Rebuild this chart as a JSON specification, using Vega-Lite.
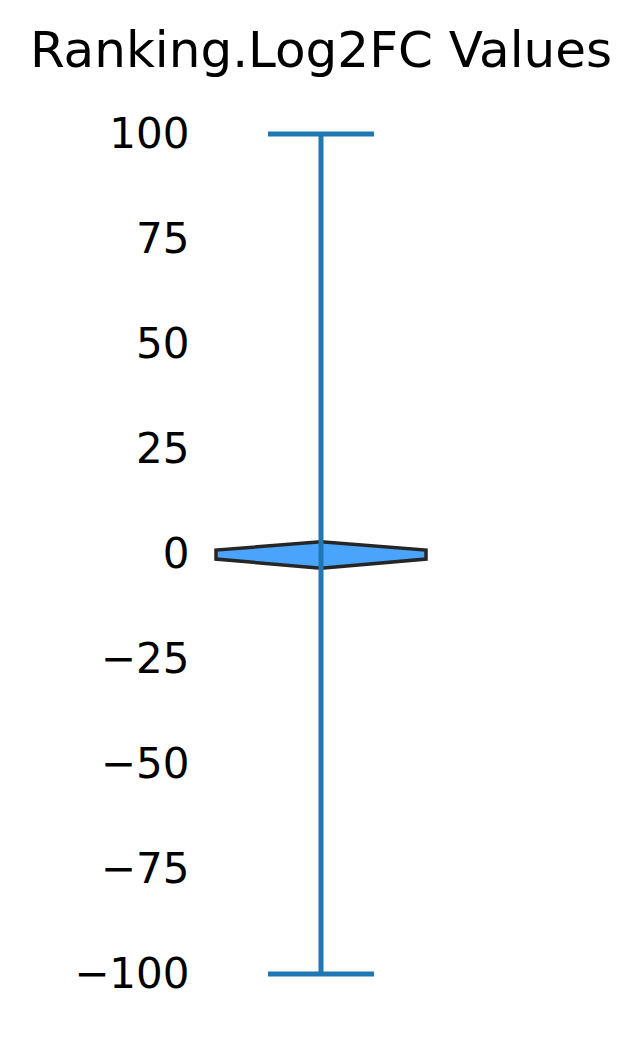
{
  "$schema": "https://vega.github.io/schema/vega-lite/v6.json",
  "autosize": "none",
  "width": 240,
  "height": 840,
  "padding": {"left": 201, "top": 134, "right": 201, "bottom": 73},
  "background": "white",
  "title": {"text": "Ranking.Log2FC Values", "font": "DejaVu Sans", "fontSize": 50, "fontWeight": "normal", "color": "black", "anchor": "middle", "offset": 36},
  "config": {"view": {"stroke": null}},
  "datasets": {
    "violin": [
      {"v": -3.4, "lo": 0, "hi": 0},
      {"v": -1.2, "lo": -1.05, "hi": 1.05},
      {"v": 0.95, "lo": -1.05, "hi": 1.05},
      {"v": 2.9, "lo": 0, "hi": 0}
    ],
    "stem": [{"c": 0, "ymin": -100, "ymax": 100}],
    "caps": [
      {"y": 100, "l": -0.53, "r": 0.53},
      {"y": -100, "l": -0.53, "r": 0.53}
    ]
  },
  "layer": [
    {
      "data": {"name": "violin"},
      "mark": {"type": "area", "orient": "horizontal", "fill": "#4aa4fb", "stroke": "#262626", "strokeWidth": 3.5, "opacity": 1, "strokeJoin": "miter"},
      "encoding": {
        "y": {"field": "v", "type": "quantitative", "scale": {"domain": [-100, 100], "nice": false, "zero": false},
          "axis": {"values": [-100, -75, -50, -25, 0, 25, 50, 75, 100], "domain": false, "ticks": false, "grid": false, "title": null, "labelFont": "DejaVu Sans", "labelFontSize": 42, "labelColor": "black", "labelPadding": 12, "labelBound": false, "labelOverlap": false, "labelFlush": false}},
        "x": {"field": "lo", "type": "quantitative", "scale": {"domain": [-1.2, 1.2], "nice": false, "zero": false}, "axis": null},
        "x2": {"field": "hi"}
      }
    },
    {
      "data": {"name": "stem"},
      "mark": {"type": "rule", "color": "#1f77b4", "strokeWidth": 5},
      "encoding": {
        "x": {"field": "c", "type": "quantitative"},
        "y": {"field": "ymin", "type": "quantitative"},
        "y2": {"field": "ymax"}
      }
    },
    {
      "data": {"name": "caps"},
      "mark": {"type": "rule", "color": "#1f77b4", "strokeWidth": 5, "strokeCap": "butt"},
      "encoding": {
        "y": {"field": "y", "type": "quantitative"},
        "x": {"field": "l", "type": "quantitative"},
        "x2": {"field": "r"}
      }
    }
  ]
}
